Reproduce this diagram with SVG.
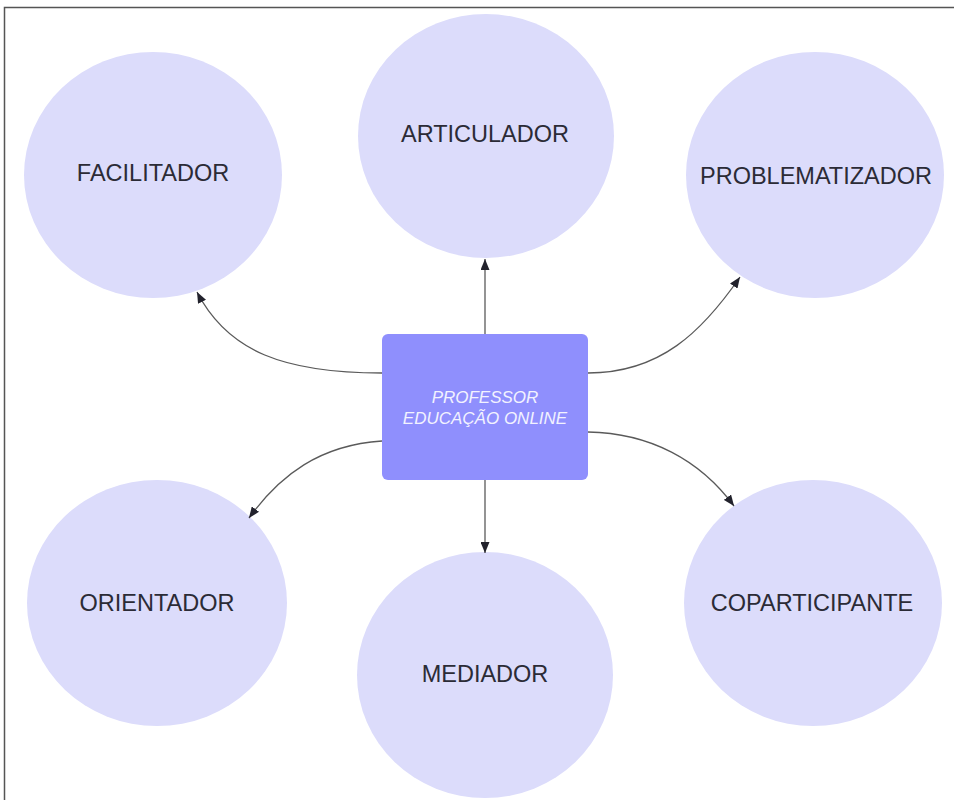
<svg xmlns="http://www.w3.org/2000/svg" width="954" height="800" viewBox="0 0 954 800">
<style>
.c{fill:#dcdcfb}
.t{font-family:"Liberation Sans",Arial,sans-serif;font-size:23.5px;fill:#2b2b36;text-anchor:middle}
.ct{font-family:"Liberation Sans",Arial,sans-serif;font-size:17px;font-style:italic;fill:#f2f2ff;text-anchor:middle}
.e{fill:none;stroke:#5a5a5a;stroke-width:1.3;marker-end:url(#a)}
</style>
<defs>
<marker id="a" markerUnits="userSpaceOnUse" markerWidth="11" markerHeight="9" refX="11" refY="4.5" orient="auto">
<path d="M0,0 L11,4.5 L0,9 z" fill="#22222c"/>
</marker>
</defs>
<rect width="954" height="800" fill="#ffffff"/>
<path d="M4.5,800 V7.5 H954" fill="none" stroke="#555" stroke-width="1.5"/>
<g id="facilitador"><ellipse class="c" cx="153" cy="175" rx="129" ry="123"/><text class="t" x="153" y="180.5">FACILITADOR</text></g>
<g id="articulador"><ellipse class="c" cx="486" cy="136" rx="128" ry="122"/><text class="t" x="485" y="141.5">ARTICULADOR</text></g>
<g id="problematizador"><ellipse class="c" cx="815" cy="175" rx="129" ry="123"/><text class="t" x="816" y="183.5">PROBLEMATIZADOR</text></g>
<g id="orientador"><ellipse class="c" cx="157" cy="603" rx="130" ry="123"/><text class="t" x="157" y="610.5">ORIENTADOR</text></g>
<g id="mediador"><ellipse class="c" cx="485" cy="675" rx="128" ry="123"/><text class="t" x="485" y="681.5">MEDIADOR</text></g>
<g id="coparticipante"><ellipse class="c" cx="813" cy="603" rx="129" ry="123"/><text class="t" x="812" y="610.5">COPARTICIPANTE</text></g>
<g id="professor"><rect x="382" y="334" width="206" height="146" rx="6" fill="#8f8ffd"/><text class="ct" x="485" y="403">PROFESSOR</text><text class="ct" x="485" y="423.5">EDUCAÇÃO ONLINE</text></g>
<g id="connectors">
<path class="e" d="M485,334 V259"/>
<path class="e" d="M485,480 V553"/>
<path class="e" d="M382,373 C285,373 228,352 197,292"/>
<path class="e" d="M588,373 C660,373 702,332 740,277"/>
<path class="e" d="M382,441 C320,445 280,475 249,518"/>
<path class="e" d="M588,432 C650,433 700,460 734,506"/>
</g>
</svg>
